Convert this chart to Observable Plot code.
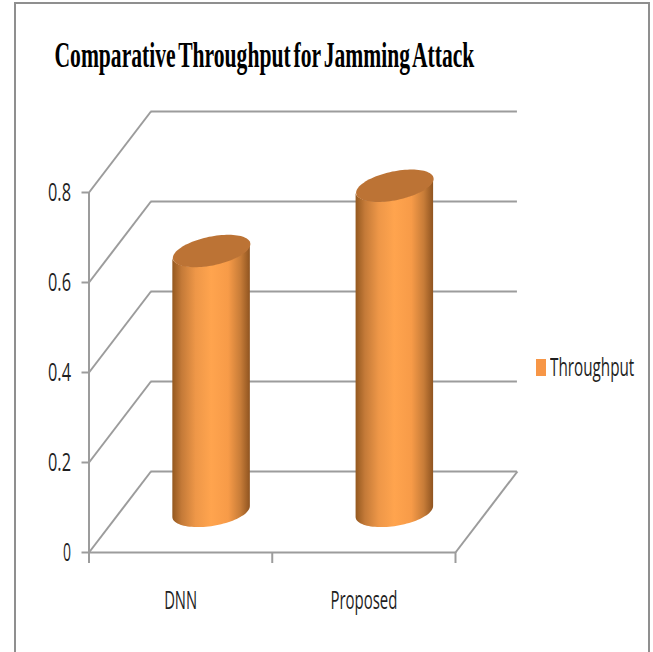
<!DOCTYPE html>
<html>
<head>
<meta charset="utf-8">
<script src="https://cdn.jsdelivr.net/npm/d3@7"></script>
<script src="https://cdn.jsdelivr.net/npm/@observablehq/plot@0.6"></script>
<style>
  html, body { margin: 0; padding: 0; background: #fff; overflow: hidden; }
  #chart { position: relative; width: 653px; height: 652px; overflow: hidden; }
  #chart svg { position: absolute; left: 0; top: 0; background: transparent; }
  #border { position: absolute; left: 14px; top: 2px; width: 632px; height: 700px; border: 2px solid #8f8f8f; }
  #legend { position: absolute; left: 536px; top: 354px; height: 26px; white-space: nowrap; }
  #legend i { position: absolute; left: 0; top: 5px; width: 10px; height: 17px; background: #f79646; }
  #legend span { position: absolute; left: 14px; top: -5px; font: 25px "Open Sans", sans-serif; color: #1f1f1f;
                 transform: scaleX(0.61); transform-origin: left center; }
</style>
</head>
<body>
<div id="chart"><div id="border"></div></div>
<script>
const titleText = "Comparative Throughput for Jamming Attack";
const seriesName = "Throughput";
const categories = ["DNN", "Proposed"];
const throughput = [0.58, 0.725];
const yTicks = [0, 0.2, 0.4, 0.6, 0.8];

// Oblique projection of the chart box, in data units of the x and y scales.
const depthX = 0.338;
const depthY = 0.18;
const radiusX = 0.2115;
const radiusY = 0.0325;
const tiltTop = 0.0155;
const tiltBase = 0.012;

const angles = d3.range(0, 49).map(i => i * Math.PI / 48);

// Edge of a cylinder cap: the sheared ellipse around (cx, cv).
function capFront(cx, cv, tilt) {
  return angles.map(a => {
    const u = -Math.cos(a);
    return {x: cx + radiusX * u, v: cv + tilt * u - radiusY * Math.sin(a)};
  });
}
function capOutline(cx, cv, tilt) {
  const back = angles.map(a => {
    const u = Math.cos(a);
    return {x: cx + radiusX * u, v: cv + tilt * u + radiusY * Math.sin(a)};
  });
  return [...capFront(cx, cv, tilt), ...back];
}

const gridColor = "#9c9c9c";
const gridWidth = 2;

const slants = yTicks.map(v => ({x1: 0, y1: v, x2: depthX, y2: v + depthY}));
const backLines = yTicks.map(v => ({x1: depthX, x2: 2 + depthX, y: v + depthY}));

const cylinderMarks = categories.flatMap((name, i) => {
  const cx = i + 0.5 + depthX / 2;
  const base = depthY / 2;
  const top = base + throughput[i];
  const low = capFront(cx, base, tiltBase);
  const high = capFront(cx, top, tiltTop);
  const body = low.map((p, k) => ({x: p.x, y1: p.v, y2: high[k].v}));
  return [
    Plot.areaY(body, {x: "x", y1: "y1", y2: "y2", fill: "url(#cylinderShade)", curve: "linear"}),
    Plot.line(capOutline(cx, top, tiltTop), {x: "x", y: "v", fill: "#bc7335", stroke: "none", curve: "linear"})
  ];
});

const shadeStops = [
  [0, "#94581f"], [0.12, "#c47a38"], [0.3, "#ee9748"], [0.5, "#ffa44e"],
  [0.72, "#f79b48"], [0.88, "#c77c38"], [1, "#8f5420"]
];

const shadeDefs = () => {
  const defs = d3.create("svg:defs");
  const grad = defs.append("linearGradient").attr("id", "cylinderShade")
    .attr("x1", 0).attr("x2", 1).attr("y1", 0).attr("y2", 0);
  shadeStops.forEach(([o, c]) => grad.append("stop").attr("offset", o).attr("stop-color", c));
  return defs.node();
};

const plot = Plot.plot({
  width: 653,
  height: 652,
  marginLeft: 88.5,
  marginRight: 198,
  marginTop: 192,
  marginBottom: 100,
  style: {background: "transparent"},
  x: {type: "linear", domain: [0, 2]},
  y: {domain: [0, 0.8]},
  marks: [
    shadeDefs,
    Plot.ruleY(backLines, {x1: "x1", x2: "x2", y: "y", stroke: gridColor, strokeWidth: gridWidth}),
    Plot.link(slants, {x1: "x1", y1: "y1", x2: "x2", y2: "y2", stroke: gridColor, strokeWidth: gridWidth}),
    Plot.link([{x1: 2, y1: 0, x2: 2 + depthX, y2: depthY}], {x1: "x1", y1: "y1", x2: "x2", y2: "y2", stroke: gridColor, strokeWidth: gridWidth}),
    Plot.ruleY([0], {x1: 0, x2: 2, stroke: gridColor, strokeWidth: gridWidth}),
    Plot.ruleX([0], {y1: 0, y2: 0.8, stroke: gridColor, strokeWidth: gridWidth}),
    Plot.axisY({
      ticks: yTicks,
      tickFormat: d => d === 0 ? "0" : d.toFixed(1),
      tickSize: 7,
      tickPadding: 11,
      fontSize: 26,
      fontFamily: "Open Sans",
      fill: "#1f1f1f",
      stroke: gridColor,
      strokeWidth: gridWidth,
      label: null
    }),
    Plot.axisX({
      ticks: [0, 1, 2],
      tickFormat: () => "",
      tickSize: 11,
      stroke: gridColor,
      strokeWidth: gridWidth,
      label: null
    }),
    Plot.axisX({
      ticks: categories.map((_, i) => i + 0.5),
      tickFormat: d => categories[d - 0.5],
      tickSize: 0,
      tickPadding: 39,
      fontSize: 25,
      fontFamily: "Open Sans",
      fill: "#1f1f1f",
      label: null
    }),
    ...cylinderMarks,
    Plot.text([titleText], {
      text: d => d,
      frameAnchor: "top-left",
      dx: -34.5,
      dy: -151,
      textAnchor: "start",
      fontFamily: "Liberation Serif",
      fontWeight: "bold",
      fontSize: 36,
      fill: "#000"
    })
  ]
});

const chart = document.getElementById("chart");
chart.appendChild(plot);

// Narrow the lettering to the condensed proportions of the chart's type.
const fitted = new Map([
  [titleText, 420],
  ["0.8", 23], ["0.6", 23], ["0.4", 23], ["0.2", 23], ["0", 8],
  ["DNN", 33], ["Proposed", 67]
]);
plot.querySelectorAll("text").forEach(t => {
  const w = fitted.get(t.textContent);
  if (!w) return;
  if (t.textContent === titleText) t.style.wordSpacing = "-4px";
  const sx = w / t.getComputedTextLength();
  const base = t.getAttribute("transform") || "";
  t.setAttribute("transform", `${base} scale(${sx},1)`.trim());
});

const legend = document.createElement("div");
legend.id = "legend";
legend.innerHTML = "<i></i><span></span>";
legend.querySelector("span").textContent = seriesName;
chart.appendChild(legend);
</script>
</body>
</html>
